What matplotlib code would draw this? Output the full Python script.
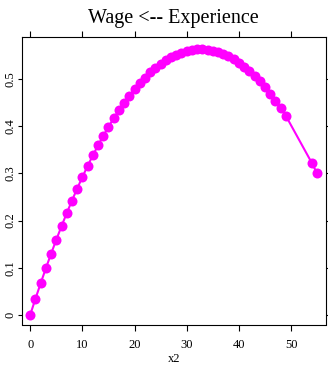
import matplotlib
matplotlib.use("Agg")
import matplotlib.pyplot as plt

x2 = list(range(0, 50)) + [54, 55]
wage = [0.0, 0.034, 0.0669, 0.0988, 0.1297, 0.1594, 0.1881, 0.2158, 0.2424, 0.2679,
        0.2924, 0.3159, 0.3382, 0.3595, 0.3797, 0.3989, 0.4171, 0.4341, 0.4502, 0.4651,
        0.479, 0.4918, 0.5036, 0.5144, 0.524, 0.5326, 0.5402, 0.5467, 0.5521, 0.5565,
        0.5598, 0.5621, 0.5633, 0.5634, 0.5625, 0.5606, 0.5576, 0.5535, 0.5484, 0.5422,
        0.535, 0.5267, 0.5173, 0.5069, 0.4955, 0.483, 0.4694, 0.4548, 0.4391, 0.4224,
        0.322, 0.300]
xticks = [0, 10, 20, 30, 40, 50]
yticks = [0, 0.1, 0.2, 0.3, 0.4, 0.5]
ytick_labels = ["0", "0.1", "0.2", "0.3", "0.4", "0.5"]

plt.rcParams['font.family'] = ['Liberation Serif', 'DejaVu Serif']

fig = plt.figure(figsize=(3.28, 3.65), dpi=100)
L, R, T, B = 21.5, 326, 37.3, 324.5
ax = fig.add_axes([L/328, 1-B/365, (R-L)/328, (B-T)/365])
ax.plot(x2, wage, color='#FF00FF', lw=1.5, marker='o', markersize=7.2,
        markeredgewidth=0)
ax.set_xlim(-1.67, 56.7)
ax.set_ylim(-0.0205, 0.589)
ax.set_xticks(xticks)
ax.set_yticks(yticks)
ax.set_yticklabels(ytick_labels, rotation=90, va='center')
ax.tick_params(axis='x', direction='out', length=4, width=0.8, labelsize=9,
               top=True, labeltop=False, pad=6.5)
ax.tick_params(axis='y', direction='out', length=3, width=0.8, labelsize=9,
               right=True, labelright=False, pad=0.5)
for s in ax.spines.values():
    s.set_linewidth(0.8)
ax.set_xlabel("x2", fontsize=9, labelpad=1.5)
ax.set_title("Wage <-- Experience", fontsize=14.5, pad=10)
fig.savefig("out.png", dpi=100)
